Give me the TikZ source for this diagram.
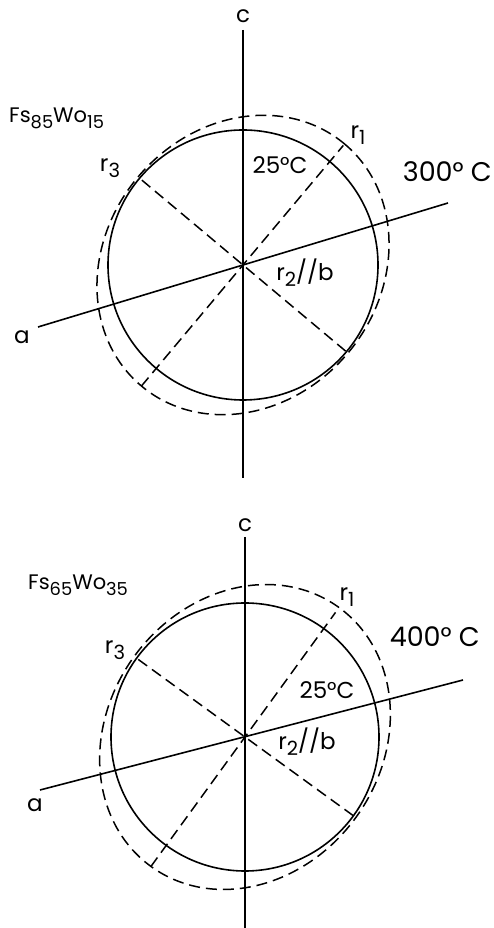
\documentclass[tikz,border=0pt]{standalone}
\usepackage{fontspec}
\usepackage{graphicx}
\setmainfont{Poppins}
\usetikzlibrary{positioning}
\newcommand{\lowidx}[1]{\raisebox{-0.5ex}{\scalebox{0.85}{#1}}}

\begin{document}
\begin{tikzpicture}[x=1pt, y=1pt,
  axis/.style={line width=1.6pt},
  trace/.style={line width=1.5pt, dash pattern=on 11pt off 6pt},
  lbl/.style={inner sep=0pt, font=\fontsize{23}{26}\selectfont},
  temp/.style={inner sep=0pt, font=\fontsize{27}{30}\selectfont}]
  \useasboundingbox (0,0) rectangle (494,928);

  % Fs85Wo15, 25 and 300 C
  \begin{scope}[shift={(243,663)}]
    \coordinate (o1) at (0,0);
    \coordinate (c1top) at (0,235);
    \coordinate (c1bot) at (0,-213);
    \coordinate (a1l) at (-205,-62);
    \coordinate (a1r) at (205,62);
    \coordinate (r1up) at (50:156);
    \coordinate (r1dn) at (230:158);
    \coordinate (r3up) at (140:134);
    \coordinate (r3dn) at (-40:134);
    \draw[axis] (c1top) -- (c1bot);
    \draw[axis] (a1l) -- (a1r);
    \draw[axis] (o1) circle (135pt);
    \draw[trace, rotate=50] (o1) ellipse (158pt and 137pt);
    \draw[trace] (r1dn) -- (r1up);
    \draw[trace] (r3dn) -- (r3up);
    \node[lbl] (c1) at (0,249) {c};
    \node[lbl] (a1) at (-221,-72) {a};
    \node[lbl, anchor=west, font=\fontsize{21}{24}\selectfont] (comp1) at (-234,147) {Fs\lowidx{85}Wo\lowidx{15}};
    \node[lbl] (r1lab1) at (115,130) {r\lowidx{1}};
    \node[lbl] (r3lab1) at (-133,97) {r\lowidx{3}};
    \node[lbl] (r2lab1) at (62,-8) {r\lowidx{2}//b};
    \node[lbl] (low1) at (37,100) {25°C};
    \node[temp, anchor=east] (high1) at (249,93) {300° C};
  \end{scope}

  % Fs65Wo35, 25 and 400 C
  \begin{scope}[shift={(245,191)}]
    \coordinate (o2) at (0,0);
    \coordinate (c2top) at (0,200);
    \coordinate (c2bot) at (0,-191);
    \coordinate (a2l) at (-205,-53);
    \coordinate (a2r) at (218,57);
    \coordinate (r1up2) at (54:154);
    \coordinate (r1dn2) at (234:160);
    \coordinate (r3up2) at (144:134);
    \coordinate (r3dn2) at (-36:134);
    \draw[axis] (c2top) -- (c2bot);
    \draw[axis] (a2l) -- (a2r);
    \draw[axis] (o2) circle (134pt);
    \draw[trace, rotate=54] (o2) ellipse (160pt and 137pt);
    \draw[trace] (r1dn2) -- (r1up2);
    \draw[trace] (r3dn2) -- (r3up2);
    \node[lbl] (c2) at (0,212) {c};
    \node[lbl] (a2) at (-210,-68) {a};
    \node[lbl, anchor=west, font=\fontsize{21}{24}\selectfont] (comp2) at (-217,152) {Fs\lowidx{65}Wo\lowidx{35}};
    \node[lbl] (r1lab2) at (102,140) {r\lowidx{1}};
    \node[lbl] (r3lab2) at (-130,87) {r\lowidx{3}};
    \node[lbl] (r2lab2) at (62,-5) {r\lowidx{2}//b};
    \node[lbl] (low2) at (82,47) {25°C};
    \node[temp, anchor=east] (high2) at (235,100) {400° C};
  \end{scope}
\end{tikzpicture}
\end{document}
